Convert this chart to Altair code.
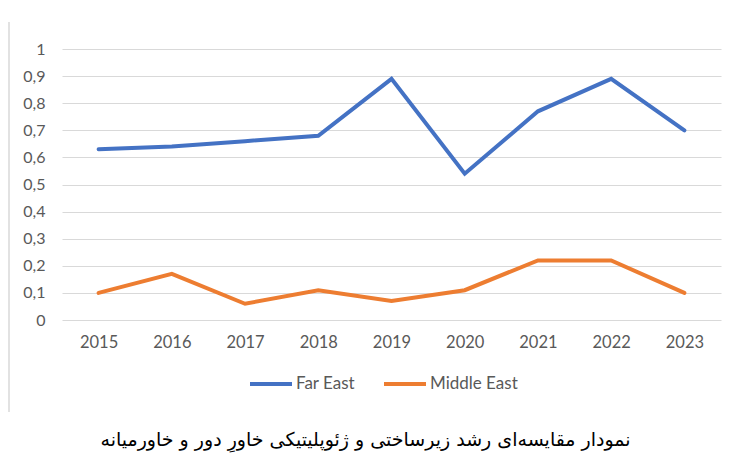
import altair as alt
import pandas as pd

years = ["2015", "2016", "2017", "2018", "2019", "2020", "2021", "2022", "2023"]
far_east = [0.63, 0.64, 0.66, 0.68, 0.89, 0.54, 0.77, 0.89, 0.70]
middle_east = [0.10, 0.17, 0.06, 0.11, 0.07, 0.11, 0.22, 0.22, 0.10]
series_names = ["Far East", "Middle East"]
series_colors = ["#4472C4", "#ED7D31"]
caption = "نمودار مقایسه‌ای رشد زیرساختی و ژئوپلیتیکی خاورِ دور و خاورمیانه"

rows = []
for y, v in zip(years, far_east):
    rows.append({"year": y, "value": v, "series": series_names[0]})
for y, v in zip(years, middle_east):
    rows.append({"year": y, "value": v, "series": series_names[1]})
df = pd.DataFrame(rows)

font = "Lato"

lines = alt.Chart(df).mark_line(strokeWidth=4, strokeCap="round", strokeJoin="miter").encode(
    x=alt.X("year:O", sort=years, title=None,
            scale=alt.Scale(paddingInner=0, paddingOuter=0.5, align=0.5),
            axis=alt.Axis(labelAngle=0, grid=False, domain=False, ticks=False,
                          labelPadding=14, labelFontSize=16.5, labelColor="#595959", labelFont=font)),
    y=alt.Y("value:Q", title=None,
            scale=alt.Scale(domain=[0, 1], nice=False),
            axis=alt.Axis(values=[0, 0.1, 0.2, 0.3, 0.4, 0.5, 0.6, 0.7, 0.8, 0.9, 1],
                          labelExpr="replace(format(datum.value, '.1~f'), '.', ',')",
                          domain=False, ticks=False, gridColor="#d9d9d9", gridWidth=1,
                          labelPadding=17, labelFontSize=16, labelColor="#595959", labelFont=font)),
    color=alt.Color("series:N", title=None,
                    scale=alt.Scale(domain=series_names, range=series_colors),
                    legend=alt.Legend(orient="none", legendX=186, legendY=312, direction="horizontal",
                                      symbolType="stroke", symbolSize=1764, symbolStrokeWidth=4,
                                      labelFontSize=17, labelColor="#595959", labelFont=font,
                                      columnPadding=20, labelOffset=2)),
)

border = alt.Chart(pd.DataFrame({"a": [0]})).mark_rule(color="#d9d9d9", strokeWidth=1.5).encode(
    x=alt.value(-53), y=alt.value(-27), y2=alt.value(363)
)

chart = alt.layer(border, lines).properties(
    width=659, height=271,
    padding={"left": 62, "top": 49, "right": 11, "bottom": 149},
    autosize=alt.AutoSizeParams(type="none"),
    title=alt.TitleParams(caption, orient="bottom", anchor="middle", fontSize=19,
                          font="DejaVu Sans", fontWeight="normal", color="#000000", offset=18, dx=-26),
).configure_view(stroke=None)

chart.save("out.html", embed_options={"renderer": "svg", "actions": False})
